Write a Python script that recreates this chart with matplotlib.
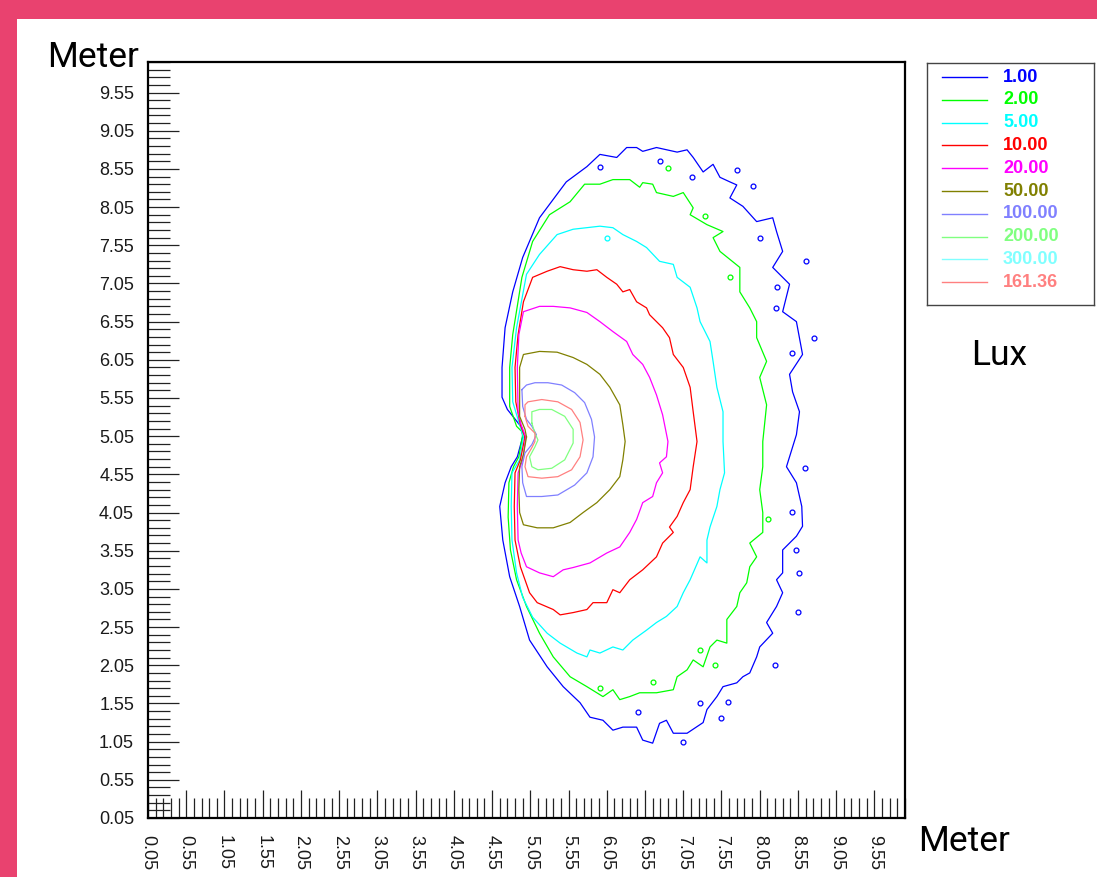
"""
Isolux contour plot (lux levels over a 10 x 10 m floor area)
"""
import numpy as np
import matplotlib
matplotlib.use("Agg")
import matplotlib.pyplot as plt
from matplotlib.patches import Rectangle
from matplotlib.ticker import FixedLocator, FixedFormatter

# lux levels as listed in the legend, with their colours
levels = ["1.00", "2.00", "5.00", "10.00", "20.00", "50.00", "100.00", "200.00", "300.00", "161.36"]
level_colors = ["#0000FF", "#00FF00", "#00FFFF", "#FF0000", "#FF00FF",
                "#808000", "#8080FF", "#80FF80", "#80FFFF", "#FF8080"]

# contour traces (meters)
lux1_x = [4.95, 4.94, 4.75, 4.68, 4.68, 4.72, 4.82, 4.95, 5.17, 5.52, 5.79, 5.96, 6.18, 6.31, 6.44,
          6.52, 6.70, 6.97, 7.10, 7.18, 7.31, 7.44, 7.53, 7.66, 7.75, 7.66, 7.83, 8.01, 8.22, 8.27,
          8.35, 8.22, 8.44, 8.35, 8.53, 8.61, 8.44, 8.48, 8.57, 8.53, 8.40, 8.53, 8.60, 8.61, 8.53,
          8.35, 8.35, 8.27, 8.35, 8.27, 8.14, 8.22, 8.05, 8.01, 7.92, 7.83, 7.75, 7.57, 7.49, 7.36,
          7.31, 7.10, 6.92, 6.83, 6.74, 6.65, 6.52, 6.44, 6.26, 6.13, 6.00, 5.83, 5.70, 5.48, 5.27,
          5.04, 4.91, 4.78, 4.69, 4.65, 4.72, 4.80, 4.88, 4.95]
lux1_y = [5.04, 5.16, 5.40, 5.56, 5.95, 6.47, 6.94, 7.39, 7.91, 8.38, 8.58, 8.74, 8.70, 8.83, 8.83,
          8.78, 8.83, 8.77, 8.80, 8.70, 8.51, 8.61, 8.44, 8.38, 8.34, 8.17, 8.06, 7.86, 7.91, 7.73,
          7.47, 7.26, 7.04, 6.68, 6.55, 6.12, 5.86, 5.63, 5.37, 5.07, 4.65, 4.44, 4.13, 3.87, 3.74,
          3.56, 3.26, 3.17, 3.00, 2.82, 2.61, 2.47, 2.29, 2.16, 1.95, 1.90, 1.82, 1.77, 1.64, 1.47,
          1.30, 1.16, 1.16, 1.33, 1.29, 1.03, 1.07, 1.24, 1.24, 1.20, 1.33, 1.37, 1.56, 1.77, 2.03,
          2.38, 2.82, 3.21, 3.69, 4.13, 4.44, 4.65, 4.78, 5.04]

lux2_x = [4.95, 4.94, 4.87, 4.78, 4.78, 4.82, 4.94, 5.08, 5.30, 5.57, 5.76, 5.96, 6.13, 6.35, 6.48,
          6.52, 6.65, 6.70, 6.92, 7.05, 7.18, 7.14, 7.36, 7.57, 7.44, 7.53, 7.79, 7.79, 7.92, 8.01,
          8.01, 8.14, 8.05, 8.14, 8.09, 8.09, 8.05, 8.09, 8.09, 7.92, 8.01, 7.92, 7.88, 7.79, 7.75,
          7.62, 7.62, 7.49, 7.40, 7.31, 7.18, 7.10, 6.97, 6.92, 6.70, 6.48, 6.35, 6.22, 6.13, 6.00,
          5.79, 5.57, 5.35, 5.17, 5.00, 4.87, 4.79, 4.76, 4.77, 4.83, 4.90, 4.95]
lux2_y = [5.07, 5.11, 5.18, 5.44, 5.95, 6.38, 7.13, 7.60, 7.95, 8.12, 8.35, 8.35, 8.41, 8.41, 8.31,
          8.37, 8.35, 8.24, 8.19, 8.24, 8.04, 7.95, 7.82, 7.73, 7.65, 7.47, 7.26, 6.94, 6.73, 6.55,
          6.34, 6.03, 5.82, 5.46, 4.98, 4.65, 4.35, 4.05, 3.79, 3.65, 3.47, 3.34, 3.13, 3.00, 2.82,
          2.65, 2.34, 2.38, 2.29, 2.03, 2.12, 1.99, 1.90, 1.73, 1.69, 1.69, 1.64, 1.60, 1.73, 1.64,
          1.77, 1.90, 2.16, 2.47, 2.82, 3.17, 3.56, 3.99, 4.44, 4.65, 4.78, 5.07]

lux5_x = [4.96, 4.91, 4.82, 4.81, 4.87, 5.00, 5.17, 5.40, 5.61, 5.96, 6.13, 6.26, 6.44, 6.57, 6.74,
          6.92, 6.97, 7.14, 7.23, 7.27, 7.40, 7.44, 7.49, 7.57, 7.57, 7.59, 7.53, 7.49, 7.40, 7.36,
          7.36, 7.27, 7.14, 7.05, 6.97, 6.83, 6.70, 6.57, 6.39, 6.26, 6.13, 5.96, 5.83, 5.79, 5.66,
          5.44, 5.27, 5.08, 4.95, 4.87, 4.81, 4.80, 4.81, 4.91, 4.96]
lux5_y = [5.04, 5.20, 5.50, 5.95, 6.47, 7.17, 7.43, 7.69, 7.76, 7.80, 7.78, 7.69, 7.60, 7.52, 7.34,
          7.30, 7.13, 7.00, 6.73, 6.55, 6.29, 6.03, 5.69, 5.37, 4.98, 4.57, 4.35, 4.13, 3.86, 3.69,
          3.39, 3.47, 3.17, 3.00, 2.82, 2.69, 2.61, 2.51, 2.38, 2.25, 2.29, 2.21, 2.25, 2.16, 2.21,
          2.34, 2.47, 2.68, 2.94, 3.26, 3.69, 4.13, 4.57, 4.74, 5.04]

lux10_x = [4.98, 4.92, 4.86, 4.85, 4.89, 4.96, 5.08, 5.27, 5.44, 5.61, 5.79, 5.92, 6.05, 6.18, 6.26,
           6.35, 6.44, 6.57, 6.61, 6.78, 6.87, 6.92, 7.05, 7.14, 7.18, 7.23, 7.18, 7.14, 7.05, 6.97,
           6.87, 6.92, 6.78, 6.70, 6.52, 6.35, 6.22, 6.13, 6.05, 5.87, 5.79, 5.61, 5.44, 5.35, 5.14,
           5.04, 4.92, 4.85, 4.84, 4.85, 4.92, 4.98]
lux10_y = [5.04, 5.20, 5.50, 5.95, 6.38, 6.81, 7.13, 7.21, 7.27, 7.23, 7.21, 7.23, 7.13, 7.04, 6.94,
           6.97, 6.81, 6.73, 6.64, 6.47, 6.34, 6.12, 5.95, 5.69, 5.37, 4.98, 4.65, 4.35, 4.18, 4.00,
           3.86, 3.79, 3.65, 3.47, 3.30, 3.17, 3.00, 3.04, 2.87, 2.87, 2.78, 2.74, 2.71, 2.78, 2.87,
           3.00, 3.34, 3.69, 4.13, 4.57, 4.74, 5.04]

lux20_x = [4.99, 4.93, 4.89, 4.88, 4.90, 4.96, 5.17, 5.35, 5.57, 5.79, 5.96, 6.13, 6.31, 6.39, 6.52,
           6.61, 6.70, 6.78, 6.85, 6.83, 6.74, 6.78, 6.70, 6.65, 6.52, 6.44, 6.35, 6.22, 6.05, 5.83,
           5.61, 5.48, 5.35, 5.17, 5.00, 4.93, 4.89, 4.88, 4.89, 4.95, 4.99]
lux20_y = [5.04, 5.20, 5.37, 5.95, 6.38, 6.68, 6.75, 6.75, 6.73, 6.67, 6.55, 6.42, 6.29, 6.12, 5.99,
           5.82, 5.59, 5.33, 4.98, 4.78, 4.70, 4.57, 4.44, 4.26, 4.18, 3.96, 3.79, 3.60, 3.52, 3.39,
           3.33, 3.30, 3.21, 3.26, 3.34, 3.52, 3.69, 4.13, 4.57, 4.74, 5.04]

lux50_x = [5.00, 4.98, 4.91, 4.91, 4.91, 4.96, 5.17, 5.40, 5.61, 5.79, 5.96, 6.09, 6.22, 6.26, 6.29,
           6.26, 6.22, 6.09, 5.92, 5.74, 5.57, 5.35, 5.14, 4.96, 4.91, 4.90, 4.91, 4.96, 5.00]
lux50_y = [5.04, 5.14, 5.31, 5.59, 5.95, 6.12, 6.16, 6.15, 6.08, 5.99, 5.86, 5.69, 5.46, 5.20, 4.98,
           4.74, 4.52, 4.35, 4.18, 4.05, 3.92, 3.85, 3.85, 3.89, 4.05, 4.35, 4.65, 4.81, 5.04]

lux100_x = [4.94, 5.00, 5.11, 5.28, 5.46, 5.63, 5.76, 5.85, 5.89, 5.87, 5.79, 5.63, 5.41, 5.20, 5.00,
            4.95, 4.94, 4.98, 5.07, 5.13, 5.07, 5.00, 4.95, 4.94]
lux100_y = [5.66, 5.72, 5.75, 5.75, 5.72, 5.62, 5.49, 5.27, 5.04, 4.78, 4.57, 4.41, 4.28, 4.26, 4.26,
            4.44, 4.65, 4.83, 4.94, 5.07, 5.18, 5.27, 5.44, 5.66]

lux161_x = [4.98, 4.98, 5.02, 5.20, 5.41, 5.59, 5.70, 5.74, 5.70, 5.59, 5.41, 5.20, 5.02, 4.98, 5.00,
            5.07, 5.11, 5.11, 5.02, 4.98]
lux161_y = [5.31, 5.46, 5.50, 5.53, 5.50, 5.40, 5.23, 5.00, 4.78, 4.61, 4.52, 4.50, 4.52, 4.65, 4.78,
            4.90, 4.98, 5.09, 5.18, 5.31]

lux200_x = [5.07, 5.07, 5.17, 5.33, 5.50, 5.61, 5.61, 5.50, 5.33, 5.15, 5.07, 5.04, 5.11, 5.15, 5.11, 5.07]
lux200_y = [5.22, 5.37, 5.40, 5.40, 5.31, 5.14, 4.96, 4.74, 4.63, 4.61, 4.65, 4.78, 4.91, 5.00, 5.09, 5.22]

# small isolated islands of the outer levels
spots1_x = [5.96, 6.74, 7.16, 7.75, 7.96, 8.05, 8.65, 8.27, 8.26, 8.76, 8.47, 8.64, 8.47, 8.53,
            8.57, 8.55, 8.25, 7.63, 7.27, 7.05, 6.46, 7.55]
spots1_y = [8.57, 8.65, 8.44, 8.54, 8.33, 7.65, 7.34, 7.01, 6.73, 6.34, 6.14, 4.63, 4.06, 3.56,
            3.26, 2.75, 2.05, 1.57, 1.56, 1.05, 1.44, 1.36]
spots2_x = [7.33, 7.66, 6.85, 8.16, 7.27, 7.46, 6.65, 5.96]
spots2_y = [7.93, 7.14, 8.56, 3.96, 2.25, 2.05, 1.83, 1.75]
spots5_x = [6.05]
spots5_y = [7.65]

contours = [
    (lux1_x, lux1_y, level_colors[0]),
    (lux2_x, lux2_y, level_colors[1]),
    (lux5_x, lux5_y, level_colors[2]),
    (lux10_x, lux10_y, level_colors[3]),
    (lux20_x, lux20_y, level_colors[4]),
    (lux50_x, lux50_y, level_colors[5]),
    (lux100_x, lux100_y, level_colors[6]),
    (lux200_x, lux200_y, level_colors[7]),
    (lux161_x, lux161_y, level_colors[9]),
]
spots = [
    (spots1_x, spots1_y, level_colors[0]),
    (spots2_x, spots2_y, level_colors[1]),
    (spots5_x, spots5_y, level_colors[2]),
]

W, H = 1097, 877
fig = plt.figure(figsize=(W / 100, H / 100), dpi=100, facecolor="#E9426F")
fig.patches.append(Rectangle((17 / W, 0), 1, (H - 19) / H, transform=fig.transFigure,
                             facecolor="white", edgecolor="none", zorder=-10))

ax = fig.add_axes([148 / W, 1 - 818 / H, (905 - 148) / W, (818 - 62) / H])
for cx, cy, col in contours:
    ax.plot(cx, cy, color=col, lw=0.9)
for sx, sy, col in spots:
    ax.plot(sx, sy, ls="none", marker="o", ms=3.5, mfc="none", mec=col, mew=0.9)

ax.set_xlim(0.05, 9.95)
ax.set_ylim(0.05, 9.95)

major = np.round(np.arange(0.05, 9.6, 0.5), 2)
minor = np.round(np.arange(0.05, 9.96, 0.1), 2)
labels = ["%.2f" % v for v in major]
for axis in (ax.xaxis, ax.yaxis):
    axis.set_major_locator(FixedLocator(major))
    axis.set_major_formatter(FixedFormatter(labels))
    axis.set_minor_locator(FixedLocator(minor))

ax.tick_params(axis="both", which="both", direction="in", color="#222222", width=0.9,
               labelsize=13, labelcolor="#1a1a1a")
ax.tick_params(axis="y", which="major", length=22, pad=10)
ax.tick_params(axis="y", which="minor", length=16)
ax.tick_params(axis="x", which="major", length=20, pad=12)
ax.tick_params(axis="x", which="minor", length=14.5)
for lab in ax.get_xticklabels():
    lab.set_rotation(270)
for lab in ax.get_xticklabels() + ax.get_yticklabels():
    lab.set_family(["Liberation Sans", "DejaVu Sans"])
for sp in ax.spines.values():
    sp.set_linewidth(1.6)
    sp.set_color("black")

fig.text(47 / W, 1 - 67 / H, "Meter", fontsize=25.5, family="Roboto", color="black",
         ha="left", va="baseline")
fig.text(918 / W, 1 - 851 / H, "Meter", fontsize=25.5, family="Roboto", color="black",
         ha="left", va="baseline")
fig.text(971 / W, 1 - 365 / H, "Lux", fontsize=25.5, family="Roboto", color="black",
         ha="left", va="baseline")

# legend box
lax = fig.add_axes([927 / W, 1 - 305 / H, (1094 - 927) / W, (305 - 63) / H])
lax.set_xlim(0, 167)
lax.set_ylim(242, 0)
lax.set_xticks([])
lax.set_yticks([])
for sp in lax.spines.values():
    sp.set_linewidth(1.0)
    sp.set_color("#444444")
for i, (lab, col) in enumerate(zip(levels, level_colors)):
    yy = 14 + i * 22.8
    lax.plot([15, 60], [yy, yy], color=col, lw=1.0)
    lax.text(76, yy, lab, color=col, fontsize=13, fontweight="bold",
             family="Liberation Sans", va="center", ha="left")

fig.savefig("out.png", dpi=100, facecolor=fig.get_facecolor())
